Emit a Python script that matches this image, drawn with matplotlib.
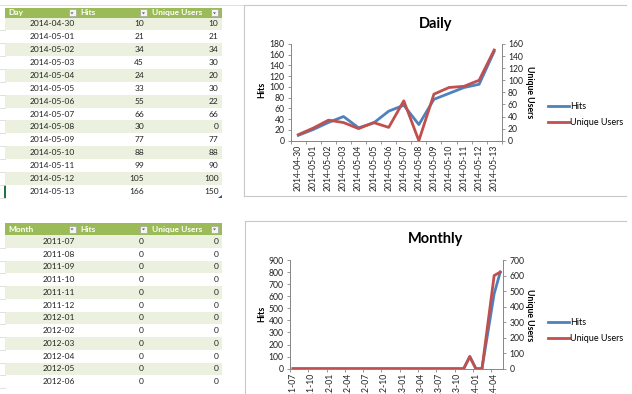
import numpy as np
import matplotlib
matplotlib.use('Agg')
import matplotlib.pyplot as plt
from matplotlib.patches import Rectangle, Polygon

plt.rcParams['font.family'] = ['Lato', 'DejaVu Sans']

# Datos diarios
days = ['2014-04-30', '2014-05-01', '2014-05-02', '2014-05-03', '2014-05-04',
        '2014-05-05', '2014-05-06', '2014-05-07', '2014-05-08', '2014-05-09',
        '2014-05-10', '2014-05-11', '2014-05-12', '2014-05-13']
day_hits = [10, 21, 34, 45, 24, 33, 55, 66, 30, 77, 88, 99, 105, 166]
day_users = [10, 21, 34, 30, 20, 30, 22, 66, 0, 77, 88, 90, 100, 150]

# Datos mensuales (2011-07 .. 2014-05)
months = ['2011-07', '2011-08', '2011-09', '2011-10', '2011-11', '2011-12',
          '2012-01', '2012-02', '2012-03', '2012-04', '2012-05', '2012-06',
          '2012-07', '2012-08', '2012-09', '2012-10', '2012-11', '2012-12',
          '2013-01', '2013-02', '2013-03', '2013-04', '2013-05', '2013-06',
          '2013-07', '2013-08', '2013-09', '2013-10', '2013-11', '2013-12',
          '2014-01', '2014-02', '2014-03', '2014-04', '2014-05']
month_hits = [0, 0, 0, 0, 0, 0, 0, 0, 0, 0, 0, 0, 0, 0, 0, 0, 0, 0,
              0, 0, 0, 0, 0, 0, 0, 0, 0, 0, 0, 100, 0, 0, 310, 620, 800]
month_users = [0, 0, 0, 0, 0, 0, 0, 0, 0, 0, 0, 0, 0, 0, 0, 0, 0, 0,
               0, 0, 0, 0, 0, 0, 0, 0, 0, 0, 0, 78, 0, 0, 300, 600, 622]
table_month_rows = 12

# Colores
blue = '#4F81BD'
red = '#C0504D'
green = '#9BBB59'
band = '#EBF1DE'
axis_gray = '#868686'
frame_gray = '#C8C8C8'
text_col = '#222222'

W, H = 632, 394
fig = plt.figure(figsize=(W / 100, H / 100), dpi=100)

bg = fig.add_axes([0, 0, 1, 1])
bg.set_xlim(0, W)
bg.set_ylim(H, 0)
bg.axis('off')


def px_axes(x0, y0, x1, y1):
    return fig.add_axes([x0 / W, 1 - y1 / H, (x1 - x0) / W, (y1 - y0) / H])


def dropdown(x, y):
    bg.add_patch(Rectangle((x, y), 7, 7, fc='#F4F4F4', ec='#A6A6A6', lw=0.5))
    bg.add_patch(Polygon([(x + 2, y + 3), (x + 5, y + 3), (x + 3.5, y + 4.8)],
                         closed=True, fc='#595959', lw=0))


def draw_table(top, hdr_h, row_h, names, c0, c1, c2):
    bg.add_patch(Rectangle((5, top), 217, hdr_h, fc=green, lw=0))
    for xx, name in zip([8, 80, 151.5], names):
        bg.text(xx, top + hdr_h / 2, name, color='white', fontsize=6,
                fontweight='bold', ha='left', va='center')
    for xx in [68.5, 140, 211]:
        dropdown(xx, top + hdr_h / 2 - 3.5)
    y0 = top + hdr_h
    for i, (a, b, c) in enumerate(zip(c0, c1, c2)):
        y = y0 + i * row_h
        if i % 2 == 0:
            bg.add_patch(Rectangle((5, y), 217, row_h, fc=band, lw=0))
        bg.plot([0, 5], [y + row_h, y + row_h], color='#DADADA', lw=0.6)
        bg.text(75, y + row_h / 2, a, fontsize=6, color=text_col, ha='right', va='center')
        bg.text(144, y + row_h / 2, str(b), fontsize=6, color=text_col, ha='right', va='center')
        bg.text(218.5, y + row_h / 2, str(c), fontsize=6, color=text_col, ha='right', va='center')
    return y0 + len(c0) * row_h


# Tablas
bg.plot([0, 244], [4.5, 4.5], color='#DADADA', lw=0.6)
end_day = draw_table(8.3, 9.2, 12.87, ['Day', 'Hits', 'Unique Users'],
                     days, day_hits, day_users)
bg.add_patch(Rectangle((4, end_day - 12.87), 1.5, 12.87, fc='#217346', lw=0))
bg.add_patch(Polygon([(221.5, end_day - 3), (221.5, end_day + 0.5), (218, end_day + 0.5)],
                     closed=True, fc='#2F5597', lw=0))

draw_table(223, 12, 12.75, ['Month', 'Hits', 'Unique Users'],
           months[:table_month_rows], month_hits[:table_month_rows],
           month_users[:table_month_rows])

# Marcos de los graficos
bg.plot([244.3, 244.3], [5, 196], color=frame_gray, lw=0.8)
bg.plot([244.3, 626], [5, 5], color=frame_gray, lw=0.8)
bg.plot([244.3, 626], [196, 196], color=frame_gray, lw=0.8)
bg.plot([245, 245], [221, H], color=frame_gray, lw=0.8)
bg.plot([245, 626], [221, 221], color=frame_gray, lw=0.8)


def draw_chart(box, labels, hits, users, hmax, hstep, umax, ustep, lab_every,
               title, title_y, ylab_y, leg_y):
    ax = px_axes(*box)
    ax2 = ax.twinx()
    x = np.arange(len(labels))
    l1, = ax.plot(x, hits, color=blue, lw=2, label='Hits')
    l2, = ax2.plot(x, users, color=red, lw=2, label='Unique Users')
    ax.set_xlim(-0.5, len(labels) - 0.5)
    ax.set_ylim(0, hmax)
    ax.set_yticks(np.arange(0, hmax + 1, hstep))
    ax2.set_ylim(0, umax)
    ax2.set_yticks(np.arange(0, umax + 1, ustep))
    ax.set_xticks(x[::lab_every])
    ax.set_xticklabels(labels[::lab_every], rotation=90)
    ax.set_xticks(np.arange(-0.5, len(labels), lab_every), minor=True)
    ax.tick_params(axis='x', which='major', length=0, pad=3, labelsize=6.2,
                   labelcolor=text_col)
    ax.tick_params(axis='x', which='minor', length=2.5, color=axis_gray, width=0.6)
    for a in (ax, ax2):
        a.tick_params(axis='y', length=2.5, color=axis_gray, width=0.6, pad=2,
                      labelsize=6.2, labelcolor=text_col)
        for s in a.spines.values():
            s.set_color(axis_gray)
            s.set_linewidth(0.7)
    ax.spines['top'].set_visible(False)
    ax.spines['right'].set_visible(False)
    for s in ['top', 'left', 'bottom']:
        ax2.spines[s].set_visible(False)

    bg.text(436, title_y, title, fontsize=10.5, fontweight='bold',
            ha='center', va='center', color='black')
    bg.text(261.7, ylab_y, 'Hits', rotation=90, fontsize=6.3, fontweight='bold',
            ha='center', va='center')
    bg.text(529.5, ylab_y + 2, 'Unique Users', rotation=270, fontsize=6.3,
            fontweight='bold', ha='center', va='center')
    fig.legend(handles=[l1, l2], loc='center left',
               bbox_to_anchor=(548 / W, 1 - leg_y / H), frameon=False,
               fontsize=6.5, handlelength=2.3, handletextpad=0.1,
               labelspacing=0.8, borderpad=0, borderaxespad=0)


draw_chart((290.8, 44, 501.7, 140.7), days, day_hits, day_users,
           180, 20, 160, 20, 1, 'Daily', 24, 90, 114.7)
draw_chart((290, 260, 503.3, 368.7), months, month_hits, month_users,
           900, 100, 700, 100, 3, 'Monthly', 239.3, 313.5, 330.3)

fig.savefig('out.png', dpi=100)
